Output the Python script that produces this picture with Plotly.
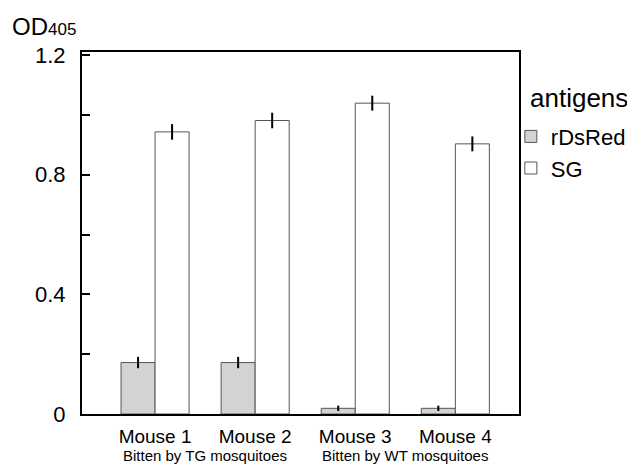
import plotly.graph_objects as go

mice = ["Mouse 1", "Mouse 2", "Mouse 3", "Mouse 4"]
rdsred = [0.172, 0.172, 0.019, 0.019]
rdsred_err = [0.019, 0.019, 0.009, 0.009]
sg = [0.943, 0.981, 1.039, 0.903]
sg_err = [0.026, 0.026, 0.025, 0.025]
y_ticks = [0, 0.2, 0.4, 0.6, 0.8, 1.0, 1.2]
y_labels = ["0", "", "0.4", "", "0.8", "", "1.2"]
groups = [("Bitten by TG mosquitoes", 0.5), ("Bitten by WT mosquitoes", 2.5)]

FONT = "Liberation Sans, Arial, sans-serif"

fig = go.Figure()
fig.add_trace(go.Bar(
    name="rDsRed", x=mice, y=rdsred,
    marker=dict(color="#d3d3d3", line=dict(color="#555555", width=1)),
    error_y=dict(type="data", array=rdsred_err, color="black", thickness=2, width=0),
))
fig.add_trace(go.Bar(
    name="SG", x=mice, y=sg,
    marker=dict(color="white", line=dict(color="#555555", width=1)),
    error_y=dict(type="data", array=sg_err, color="black", thickness=2, width=0),
))

annotations = [
    dict(text="OD<span style='font-size:17px'>405</span>", xref="paper", yref="paper",
         x=0, y=1, xanchor="left", yanchor="bottom", xshift=-72, yshift=10,
         showarrow=False, font=dict(size=24, color="black", family=FONT)),
    dict(text="antigens", xref="paper", yref="paper", x=1, y=1,
         xanchor="left", yanchor="middle", xshift=9, yshift=-46,
         showarrow=False, font=dict(size=26, color="black", family=FONT)),
]
for label, pos in groups:
    annotations.append(dict(text=label, xref="x", yref="paper", x=pos, y=0,
                            xanchor="center", yanchor="top", yshift=-31,
                            showarrow=False, font=dict(size=15, color="black", family=FONT)))

fig.update_layout(
    width=627, height=456,
    margin=dict(l=74, r=116, t=44, b=50, autoexpand=False),
    paper_bgcolor="white", plot_bgcolor="white",
    barmode="group", bargap=0.32, bargroupgap=0,
    font=dict(family=FONT, color="black"),
    showlegend=True,
    legend=dict(xref="container", yref="container", x=0.802, y=0.764,
                xanchor="left", yanchor="top", bgcolor="rgba(0,0,0,0)",
                font=dict(size=22), tracegroupgap=1, itemwidth=30),
    annotations=annotations,
)
fig.update_xaxes(
    range=[-0.73, 3.636], showline=True, linecolor="black", linewidth=2, mirror=True,
    ticks="", tickfont=dict(size=19), showgrid=False, zeroline=False, automargin=False,
    ticklabelstandoff=4,
)
fig.update_yaxes(
    range=[0, 1.21], tickvals=y_ticks, ticktext=y_labels, ticks="inside", ticklen=8,
    tickcolor="black", tickwidth=1.5, showline=True, linecolor="black", linewidth=2,
    mirror=True, tickfont=dict(size=22), showgrid=False, zeroline=False, automargin=False,
    ticklabelstandoff=10,
)
fig.write_html("out.html")
